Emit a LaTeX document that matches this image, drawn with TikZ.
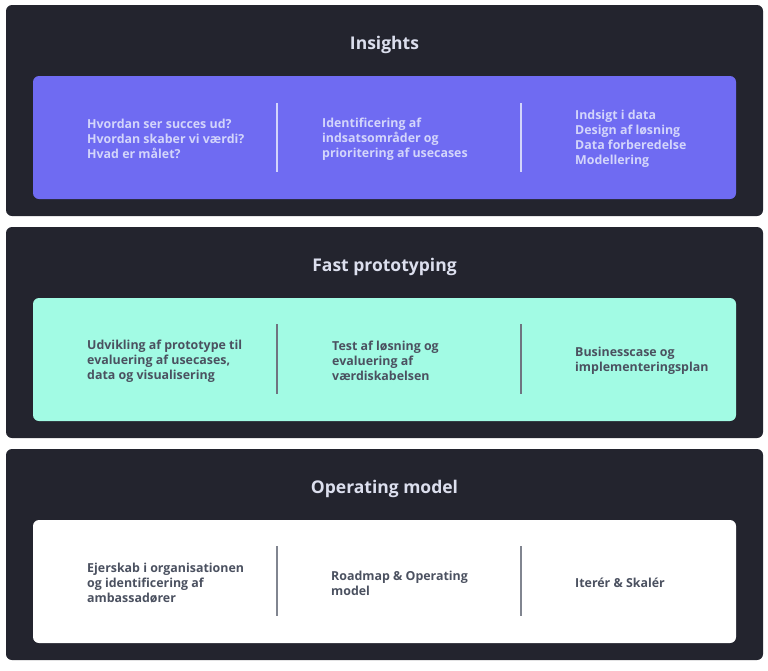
\documentclass[tikz,border=0pt]{standalone}
\usepackage{fontspec}
\setmainfont{Open Sans}
\usetikzlibrary{positioning}

\definecolor{panel}{HTML}{23242E}
\definecolor{violet}{HTML}{6F6BF2}
\definecolor{mint}{HTML}{A2FBE4}
\definecolor{lavtext}{HTML}{D3D5FB}
\definecolor{titletext}{HTML}{DCDFEE}
\definecolor{graytext}{HTML}{4B5160}

\tikzset{
  panelbox/.style={fill=panel, draw=none, rounded corners=6pt},
  innerbox/.style={draw=none, rounded corners=6pt},
  heading/.style={text=titletext, font=\bfseries\fontsize{17.5}{20}\selectfont, inner sep=0pt},
  celltext/.style={anchor=west, align=left, inner sep=0pt, font=\bfseries\fontsize{12.4}{15}\selectfont},
  divider/.style={line width=1.2pt}
}

\begin{document}
\begin{tikzpicture}[x=1pt, y=-1pt]
\useasboundingbox[fill=white] (0,0) rectangle (768,670);

\def\xl{6};    % panel left
\def\xr{763};  % panel right
\def\xil{33};  % inner left
\def\xir{736}; % inner right
\def\xa{87};   % first column
\def\xb{322};  % second column
\def\xc{575};  % third column
\def\xda{277}; % first divider
\def\xdb{521}; % second divider

% Insights
\def\ya{5};
\def\yb{216};
\def\yt{45};
\def\yi{76};
\def\yj{199};
\def\ym{139};

\filldraw[panelbox] (\xl, \ya) rectangle (\xr, \yb);
\filldraw[innerbox, fill=violet] (\xil, \yi) rectangle (\xir, \yj);
\node[heading] (insights) at (384.5, \yt) {Insights};

\node[celltext, text=lavtext] (ins1) at (\xa, \ym) {Hvordan ser succes ud?\\Hvordan skaber vi værdi?\\Hvad er målet?};
\node[celltext, text=lavtext] (ins2) at (\xb, \ym) {Identificering af\\indsatsområder og\\prioritering af usecases};
\node[celltext, text=lavtext] (ins3) at (\xc, \ym) {Indsigt i data\\Design af løsning\\Data forberedelse\\Modellering};

\draw[divider, lavtext] (\xda, 103) -- (\xda, 172);
\draw[divider, lavtext] (\xdb, 103) -- (\xdb, 172);

% Fast prototyping
\def\ya{227};
\def\yb{438};
\def\yt{267};
\def\yi{298};
\def\yj{421};
\def\ym{361};

\filldraw[panelbox] (\xl, \ya) rectangle (\xr, \yb);
\filldraw[innerbox, fill=mint] (\xil, \yi) rectangle (\xir, \yj);
\node[heading] (proto) at (384.5, \yt) {Fast prototyping};

\node[celltext, text=graytext] (pro1) at (\xa, \ym) {Udvikling af prototype til\\evaluering af usecases,\\data og visualisering};
\node[celltext, text=graytext] (pro2) at (332, \ym) {Test af løsning og\\evaluering af\\værdiskabelsen};
\node[celltext, text=graytext] (pro3) at (\xc, \ym) {Businesscase og\\implementeringsplan};

\draw[divider, graytext!80] (\xda, 324) -- (\xda, 394);
\draw[divider, graytext!80] (\xdb, 324) -- (\xdb, 394);

% Operating model
\def\ya{449};
\def\yb{660};
\def\yt{489};
\def\yi{520};
\def\yj{643};
\def\ym{583};

\filldraw[panelbox] (\xl, \ya) rectangle (\xr, \yb);
\filldraw[innerbox, fill=white] (\xil, \yi) rectangle (\xir, \yj);
\node[heading] (opmodel) at (384.5, \yt) {Operating model};

\node[celltext, text=graytext] (op1) at (\xa, \ym) {Ejerskab i organisationen\\og identificering af\\ambassadører};
\node[celltext, text=graytext] (op2) at (331, \ym) {Roadmap \& Operating\\model};
\node[celltext, text=graytext] (op3) at (\xc, \ym) {Iterér \& Skalér};

\draw[divider, graytext!70] (\xda, 546) -- (\xda, 616);
\draw[divider, graytext!70] (\xdb, 546) -- (\xdb, 616);

\end{tikzpicture}
\end{document}
